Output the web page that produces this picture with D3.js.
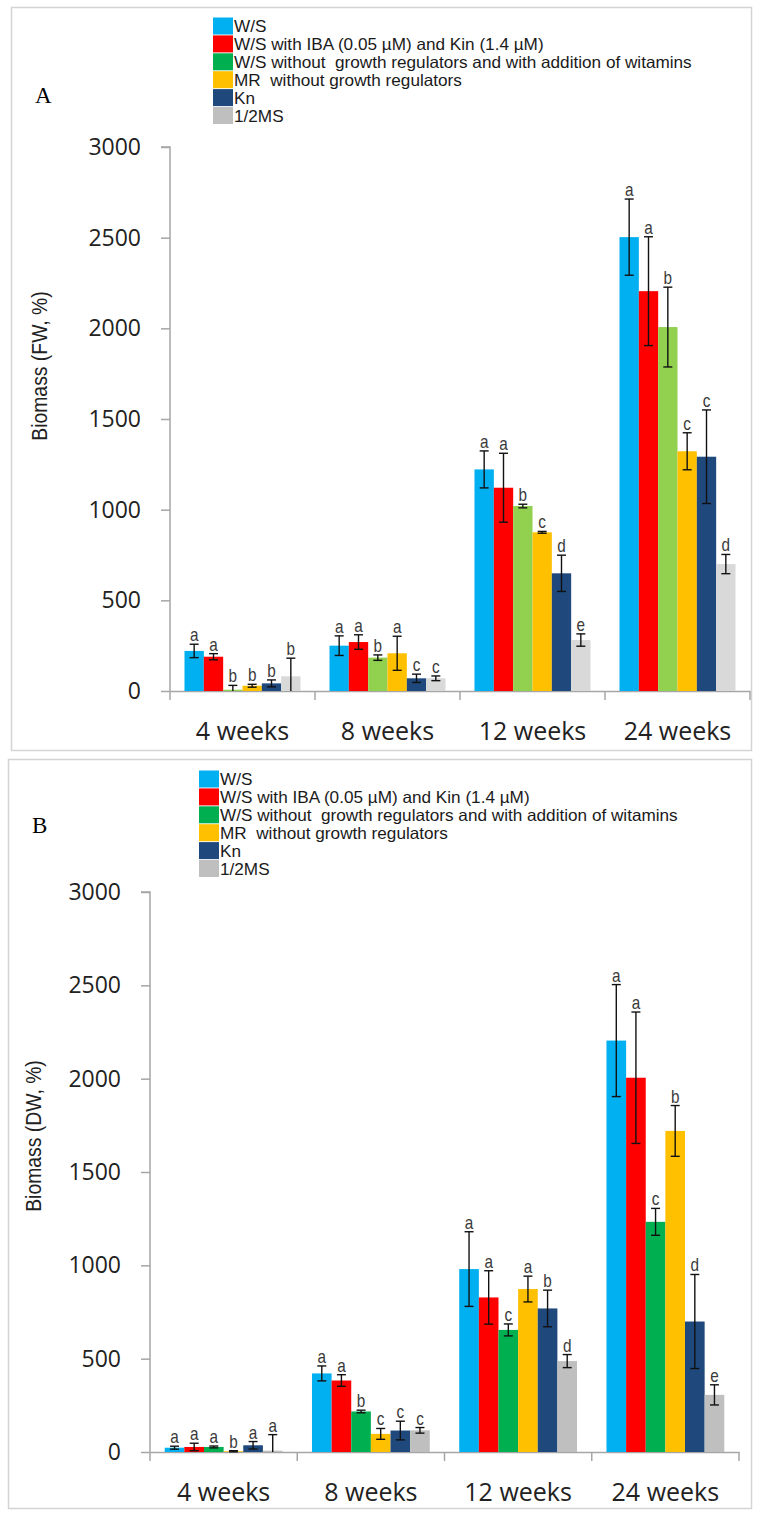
<!DOCTYPE html>
<html><head><meta charset="utf-8">
<script src="https://cdn.jsdelivr.net/npm/d3@7"></script>
<style>
html,body{margin:0;padding:0;background:#fff;}
svg{display:block;}
text{white-space:pre;}
</style></head>
<body>
<svg id="chart" width="757" height="1513"></svg>
<script>
// ---------- data ----------
const categories = ["4 weeks", "8 weeks", "12 weeks", "24 weeks"];
const seriesNames = [
  "W/S",
  "W/S with IBA (0.05 \u00b5M) and Kin (1.4 \u00b5M)",
  "W/S without  growth regulators and with addition of witamins",
  "MR  without growth regulators",
  "Kn",
  "1/2MS"
];
const yTicks = [0, 500, 1000, 1500, 2000, 2500, 3000];

// Panel A: Biomass (FW, %)
const fwWS   = [221, 250, 1222, 2503];
const fwIBA  = [189, 270, 1121, 2205];
const fwVit  = [7, 184, 1020, 2007];
const fwMR   = [29, 208, 875, 1322];
const fwKn   = [42, 70, 649, 1292];
const fwMS   = [81, 70, 281, 700];
const fwWSErr  = [37, 54, 102, 210];
const fwIBAErr = [17, 40, 190, 300];
const fwVitErr = [24, 15, 10, 220];
const fwMRErr  = [8, 94, 5, 102];
const fwKnErr  = [19, 23, 100, 258];
const fwMSErr  = [100, 13, 34, 53];
const fwLetters = [
  ["a","a","b","b","b","b"],
  ["a","a","b","a","c","c"],
  ["a","a","b","c","d","e"],
  ["a","a","b","c","c","d"]
];

// Panel B: Biomass (DW, %)
const dwWS   = [23, 421, 980, 2204];
const dwIBA  = [27, 383, 828, 2005];
const dwVit  = [27, 217, 654, 1233];
const dwMR   = [4, 97, 873, 1720];
const dwKn   = [36, 115, 769, 699];
const dwMS   = [7, 116, 487, 306];
const dwWSErr  = [8, 40, 200, 300];
const dwIBAErr = [20, 31, 143, 352];
const dwVitErr = [5, 7, 32, 72];
const dwMRErr  = [3, 29, 69, 136];
const dwKnErr  = [20, 50, 98, 252];
const dwMSErr  = [86, 15, 35, 54];
const dwLetters = [
  ["a","a","a","b","a","a"],
  ["a","a","b","c","c","c"],
  ["a","a","c","a","b","d"],
  ["a","a","c","b","d","e"]
];

// ---------- styles ----------
const legendColors = ["#00b0f0", "#ff0000", "#00b050", "#ffc000", "#1f497d", "#bfbfbf"];
const barColorsA   = ["#00b0f0", "#ff0000", "#92d050", "#ffc000", "#1f497d", "#d9d9d9"];
const barColorsB   = ["#00b0f0", "#ff0000", "#00b050", "#ffc000", "#1f497d", "#bfbfbf"];

const svg = d3.select("#chart");
const tickFont = "'Open Sans', 'DejaVu Sans', sans-serif";
const narrowFont = "'Liberation Sans', Arial, sans-serif";

// condensed text helper
function narrowText(parent, x, y, str, size, sx, anchor, fill, rotate) {
  const gg = parent.append("g")
    .attr("transform", `translate(${x},${y})` + (rotate ? ` rotate(${rotate})` : "") + ` scale(${sx},1)`);
  gg.append("text").attr("x", 0).attr("y", 0)
    .attr("text-anchor", anchor || "start")
    .attr("font-family", narrowFont).attr("font-size", size)
    .attr("fill", fill || "#1a1a1a").text(str);
  return gg;
}

function drawPanel(cfg) {
  const g = svg.append("g");
  // border
  g.append("rect")
    .attr("x", cfg.box[0] + 0.5).attr("y", cfg.box[1] + 0.5)
    .attr("width", cfg.box[2]).attr("height", cfg.box[3])
    .attr("fill", "none").attr("stroke", "#d4d4d4").attr("stroke-width", 1.5);

  // panel letter
  g.append("text").attr("x", cfg.letterPos[0]).attr("y", cfg.letterPos[1])
    .attr("font-family", "'Liberation Serif', 'Times New Roman', serif")
    .attr("font-size", 23).attr("fill", "#000").text(cfg.letter);

  // legend
  const lg = g.append("g");
  seriesNames.forEach((name, i) => {
    const yy = cfg.legendY + i * cfg.legendStep;
    lg.append("rect").attr("x", cfg.legendX).attr("y", yy - 8.5)
      .attr("width", 20).attr("height", 17).attr("fill", legendColors[i]);
    narrowText(lg, cfg.legendX + 21, yy + 6, name, 16.5, 1.04, "start", "#1a1a1a");
  });

  const x0 = d3.scaleBand().domain(categories).range([cfg.axisX, cfg.axisRight]).paddingInner(0).paddingOuter(0);
  const x1 = d3.scaleBand().domain(d3.range(6)).range([0, x0.bandwidth()]).paddingInner(0).paddingOuter(0.75);
  const y = d3.scaleLinear().domain([0, 3000]).range([cfg.baseY, cfg.topY]);

  // y axis
  const ya = g.append("g").attr("transform", `translate(${cfg.axisX},0)`)
    .call(d3.axisLeft(y).tickValues(yTicks).tickSize(9).tickPadding(cfg.tickPad).tickFormat(d3.format("d")));
  ya.select(".domain").attr("stroke", "#a6a6a6").attr("stroke-width", 1.5).attr("d", `M-9,${cfg.topY}H0V${cfg.baseY}`);
  ya.selectAll(".tick line").attr("stroke", "#a6a6a6").attr("stroke-width", 1.5);
  ya.selectAll(".tick text").attr("font-family", tickFont).attr("font-size", 23).attr("fill", "#222");

  // x axis (ticks at category boundaries, labels at centers)
  const xa = g.append("g").attr("transform", `translate(0,${cfg.baseY})`)
    .call(d3.axisBottom(x0).tickSize(0).tickPadding(cfg.xLabelPad));
  xa.select(".domain").attr("stroke", "#a6a6a6").attr("stroke-width", 1.5);
  xa.selectAll(".tick text").attr("font-family", tickFont).attr("font-size", 25).attr("fill", "#222");
  const bounds = categories.map(c => x0(c)).concat([x0(categories[categories.length - 1]) + x0.bandwidth()]);
  xa.selectAll(".bnd").data(bounds).join("line").attr("class", "bnd")
    .attr("x1", d => d).attr("x2", d => d).attr("y1", 0).attr("y2", 9)
    .attr("stroke", "#a6a6a6").attr("stroke-width", 1.5);

  // bars
  const rows = [];
  categories.forEach((c, ci) => {
    cfg.values.forEach((arr, si) => {
      rows.push({c, ci, si, v: arr[ci], e: cfg.errors[si][ci], l: cfg.letters[ci][si]});
    });
  });
  const bg = g.append("g");
  bg.selectAll("rect").data(rows).join("rect")
    .attr("x", d => x0(d.c) + x1(d.si))
    .attr("y", d => y(d.v))
    .attr("width", x1.bandwidth())
    .attr("height", d => y(0) - y(d.v))
    .attr("fill", d => cfg.barColors[d.si]);

  // error bars
  const eg = g.append("g").attr("stroke", "#111").attr("stroke-width", 1.4);
  rows.forEach(d => {
    const cx = x0(d.c) + x1(d.si) + x1.bandwidth() / 2;
    const top = y(d.v + d.e);
    const lowV = d.v - d.e;
    const bot = y(Math.max(0, lowV));
    eg.append("line").attr("x1", cx).attr("x2", cx).attr("y1", top).attr("y2", bot);
    eg.append("line").attr("x1", cx - 4.5).attr("x2", cx + 4.5).attr("y1", top).attr("y2", top);
    if (lowV > 0) eg.append("line").attr("x1", cx - 4.5).attr("x2", cx + 4.5).attr("y1", bot).attr("y2", bot);
  });

  // letters
  const tg = g.append("g");
  rows.forEach(d => {
    narrowText(tg, x0(d.c) + x1(d.si) + x1.bandwidth() / 2, y(d.v + d.e) - 3, d.l, 18, 0.85, "middle", "#3a3a3a");
  });

  // y label
  narrowText(g, cfg.yLabelX, cfg.yLabelY, cfg.yLabel, 22, 0.88, "middle", "#222", -90);
}

drawPanel({
  box: [11, 7, 740, 743], letter: "A", letterPos: [35, 103],
  legendX: 213, legendY: 26, legendStep: 17.9,
  axisX: 170, axisRight: 750, baseY: 691, topY: 147,
  tickPad: 20, xLabelPad: 31,
  values: [fwWS, fwIBA, fwVit, fwMR, fwKn, fwMS],
  errors: [fwWSErr, fwIBAErr, fwVitErr, fwMRErr, fwKnErr, fwMSErr],
  letters: fwLetters, barColors: barColorsA,
  yLabel: "Biomass (FW, %)", yLabelX: 47, yLabelY: 366
});

drawPanel({
  box: [8, 759, 743, 749], letter: "B", letterPos: [32, 833],
  legendX: 199, legendY: 779, legendStep: 17.9,
  axisX: 150, axisRight: 739, baseY: 1452, topY: 892,
  tickPad: 20, xLabelPad: 31,
  values: [dwWS, dwIBA, dwVit, dwMR, dwKn, dwMS],
  errors: [dwWSErr, dwIBAErr, dwVitErr, dwMRErr, dwKnErr, dwMSErr],
  letters: dwLetters, barColors: barColorsB,
  yLabel: "Biomass (DW, %)", yLabelX: 41, yLabelY: 1136
});
</script>
</body></html>
